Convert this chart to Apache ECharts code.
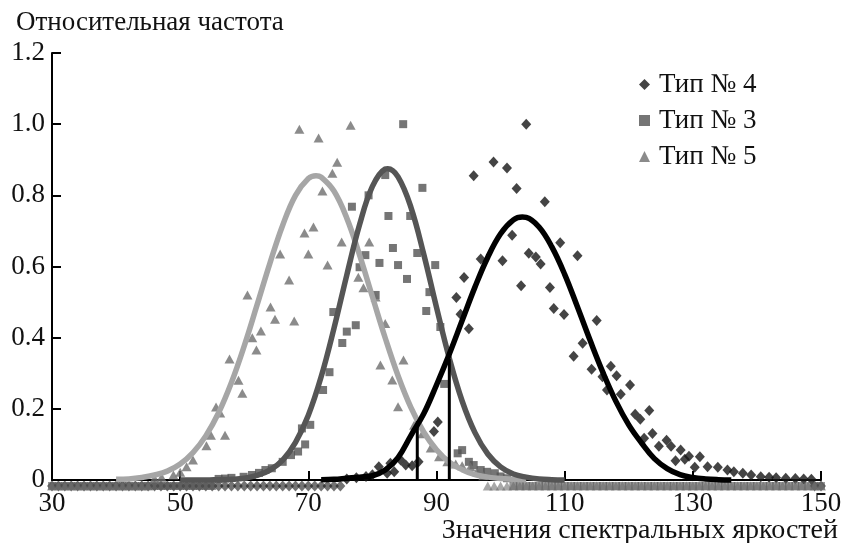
<!DOCTYPE html>
<html>
<head>
<meta charset="utf-8">
<script src="https://cdn.jsdelivr.net/npm/echarts@6/dist/echarts.min.js"></script>
<style>
  html, body { margin: 0; padding: 0; background: #fff; }
  #chart { width: 843px; height: 543px; }
</style>
</head>
<body>
<div id="chart"></div>
<script>
// Relative frequency of spectral brightness values for three types,
// measured points plus the fitted normal curves.

const FONT = '"Liberation Serif", "Times New Roman", serif';

const seriesNames = ['Тип № 4', 'Тип № 3', 'Тип № 5'];
const yAxisTitle = 'Относительная частота';
const xAxisTitle = 'Значения спектральных яркостей';

// Measured points, type 4 (diamonds)
const type4Points = [
  [76, 0.003], [77.5, 0.006], [79, 0.010], [80, 0.015], [81, 0.037], [82.3, 0.019], [82.8, 0.047],
  [83.4, 0.023], [84.4, 0.056], [85.2, 0.042], [86.2, 0.040], [87.2, 0.051], [89.6, 0.136], [90.2, 0.163],
  [93.1, 0.513], [93.75, 0.466], [94.3, 0.569], [95.05, 0.425], [95.8, 0.855], [96.9, 0.621], [98.9, 0.894],
  [100.3, 0.616], [101, 0.877], [101.8, 0.688], [102.5, 0.819], [103.2, 0.546], [104, 1.0], [104.4, 0.637],
  [105.5, 0.627], [106.25, 0.607], [106.9, 0.782], [107.7, 0.541], [108.3, 0.482], [109.3, 0.667], [109.9, 0.465],
  [111.4, 0.348], [112, 0.630], [112.8, 0.384], [114.2, 0.311], [115, 0.448], [115.9, 0.290], [116.6, 0.253],
  [117.2, 0.320], [118.1, 0.293], [118.75, 0.241], [120.2, 0.267], [121, 0.185], [121.8, 0.171], [122.4, 0.117],
  [123.2, 0.195], [123.7, 0.131], [124.7, 0.095], [125.9, 0.112], [126.6, 0.095], [127.3, 0.054], [128.1, 0.084],
  [128.75, 0.058], [129.4, 0.067], [130.3, 0.036], [131.1, 0.065], [132.3, 0.037], [133.9, 0.036], [135.4, 0.028],
  [136.4, 0.023], [137.8, 0.019], [139.1, 0.014], [140.6, 0.009], [141.9, 0.008], [143, 0.006], [144.5, 0.005],
  [146, 0.004], [147.3, 0.003], [148.5, 0.002]
];
const type4ZeroX = [
  30, 31, 32, 33, 34, 35, 36, 37, 38, 39, 40, 41, 42, 43, 44, 45, 46, 47, 48, 49, 50, 51, 52, 53,
  54, 55, 56, 57, 58, 59, 60, 61, 62, 63, 64, 65, 66, 67, 68, 69, 70, 71, 72, 73, 74, 75, 149, 150
];

// Measured points, type 3 (squares)
const type3Points = [
  [56, 0.003], [57, 0.004], [58, 0.006], [59.9, 0.009], [61.2, 0.014], [62.3, 0.020], [63.3, 0.028],
  [64.3, 0.033], [66, 0.051], [67.3, 0.070], [68.4, 0.080], [69, 0.145], [69.5, 0.100], [70.3, 0.155],
  [72.3, 0.253], [73.3, 0.303], [73.9, 0.472], [75.3, 0.385], [76, 0.417], [76.8, 0.768], [77.4, 0.435],
  [78, 0.598], [78.9, 0.632], [79.4, 0.800], [80.5, 0.520], [81.1, 0.610], [82, 0.857], [82.5, 0.742],
  [83.2, 0.652], [84, 0.604], [84.8, 1.0], [85.4, 0.565], [85.9, 0.742], [87, 0.638], [87.8, 0.821],
  [88.4, 0.475], [88.9, 0.528], [89.8, 0.604], [90.6, 0.430], [91.2, 0.270], [93.3, 0.075], [94, 0.084],
  [95.05, 0.051], [95.8, 0.042], [96.9, 0.028], [97.9, 0.023], [99.1, 0.019], [100, 0.010], [101, 0.005]
];
const type3ZeroX = [
  30, 31, 32, 33, 34, 35, 36, 37, 38, 39, 40, 41, 42, 43, 44, 45, 46, 47, 48, 49, 50, 51, 52, 53, 54, 55,
  102, 103, 104, 105, 106, 107, 108, 109, 110, 111, 112, 113, 114, 115, 116, 117, 118, 119, 120, 121, 122,
  123, 124, 125, 126, 127, 128, 129, 130, 131, 132, 133, 134, 135, 136, 137, 138, 139, 140, 141, 142, 143,
  144, 145, 146, 147, 148, 149, 150
];

// Measured points, type 5 (triangles)
const type5Points = [
  [46, 0.004], [47.1, 0.008], [48.95, 0.014], [50, 0.022], [51, 0.037], [52, 0.056], [54.1, 0.096],
  [54.8, 0.126], [55.6, 0.205], [56.25, 0.188], [57, 0.126], [57.7, 0.340], [59.1, 0.280], [59.7, 0.244],
  [60.5, 0.520], [61.25, 0.400], [61.9, 0.365], [62.6, 0.419], [64.1, 0.486], [64.8, 0.452], [65.6, 0.635],
  [67, 0.562], [67.8, 0.447], [68.6, 0.986], [69.4, 0.694], [70, 0.635], [70.8, 0.711], [71.6, 0.961],
  [72.2, 0.812], [73, 0.604], [73.75, 0.862], [74.5, 0.893], [75.2, 0.669], [76.6, 0.997], [77.8, 0.570],
  [78.6, 0.540], [79.5, 0.669], [80.5, 0.514], [81.25, 0.323], [82, 0.440], [83.1, 0.281], [84, 0.206],
  [84.85, 0.337], [86.5, 0.154], [87.8, 0.130], [89.1, 0.090], [90.4, 0.065], [91.7, 0.051], [93, 0.045],
  [94, 0.040], [95.3, 0.037], [96.3, 0.023], [97.3, 0.012]
];
const type5ZeroX = [
  30, 31, 32, 33, 34, 35, 36, 37, 38, 39, 40, 41, 42, 43, 44, 45,
  98, 99, 100, 101, 102, 103, 104, 105, 106, 107, 108, 109, 110, 111, 112, 113, 114, 115, 116, 117, 118,
  119, 120, 121, 122, 123, 124, 125, 126, 127, 128, 129, 130, 131, 132, 133, 134, 135, 136, 137, 138, 139,
  140, 141, 142, 143, 144, 145, 146, 147, 148, 149, 150
];

// Fitted curves
const curve4X = [72, 74, 76, 78, 80, 82, 84, 86, 88, 90, 92, 94, 96, 98, 100, 102, 103.4, 104, 106, 108, 110,
  112, 114, 116, 118, 120, 122, 124, 126, 128, 130, 132, 134, 136];
const curve4Y = [0.001, 0.002, 0.005, 0.008, 0.012, 0.028, 0.063, 0.125, 0.186, 0.267, 0.354, 0.448, 0.542,
  0.626, 0.692, 0.731, 0.739, 0.738, 0.711, 0.655, 0.578, 0.486, 0.391, 0.301, 0.221, 0.155, 0.104, 0.060,
  0.032, 0.015, 0.007, 0.003, 0.001, 0];

const curve3X = [50, 54, 56, 58, 60, 62, 64, 66, 68, 70, 72, 74, 76, 78, 80, 82, 82.4, 84, 86, 88, 90, 92, 94,
  96, 98, 100, 102, 104, 106, 108, 110];
const curve3Y = [0, 0, 0.001, 0.002, 0.005, 0.013, 0.028, 0.056, 0.106, 0.182, 0.290, 0.426, 0.576, 0.718,
  0.825, 0.874, 0.875, 0.852, 0.767, 0.635, 0.485, 0.342, 0.222, 0.133, 0.073, 0.037, 0.017, 0.008, 0.003,
  0.001, 0];

const curve5X = [40, 42, 44, 46, 48, 50, 52, 54, 56, 58, 60, 62, 64, 66, 68, 70, 71.2, 72, 74, 76, 78, 80, 82,
  84, 86, 88, 90, 92, 94, 96, 98, 100, 102, 104];
const curve5Y = [0.002, 0.003, 0.007, 0.014, 0.025, 0.045, 0.077, 0.124, 0.189, 0.274, 0.377, 0.492, 0.609,
  0.716, 0.800, 0.847, 0.855, 0.851, 0.812, 0.736, 0.632, 0.515, 0.399, 0.293, 0.204, 0.135, 0.085, 0.050,
  0.029, 0.015, 0.008, 0.004, 0.002, 0.001];

// Class boundaries: where the fitted curves intersect
const boundaryX = [87, 92];
const boundaryTop = [0.165, 0.34];

const zip = (xs, ys) => xs.map((x, i) => [x, ys[i]]);
// Points at zero sit in a strip just under the axis line
const withZeros = (points, zeroX) =>
  points.map(p => ({ value: p })).concat(
    zeroX.map(x => ({ value: [x, 0], symbolOffset: [0, 6], itemStyle: { opacity: 0.6 } }))
  );

const chart = echarts.init(document.getElementById('chart'), null, { renderer: 'canvas' });

const scatterBase = { type: 'scatter', clip: false, z: 3 };
const curveBase = {
  type: 'line', smooth: 0.4, showSymbol: false, symbol: 'none', clip: false,
  silent: true, legendHoverLink: false, z: 4
};

const option = {
  animation: false,
  backgroundColor: '#ffffff',
  title: {
    text: yAxisTitle,
    left: 11, top: 4,
    textStyle: { fontFamily: FONT, fontSize: 27, fontWeight: 'normal', color: '#111' }
  },
  legend: {
    data: seriesNames,
    orient: 'vertical',
    left: 634, top: 66,
    itemWidth: 11, itemHeight: 11, itemGap: 9,
    textStyle: { fontFamily: FONT, fontSize: 27, color: '#111', padding: [0, 0, 0, 4] }
  },
  grid: {
    left: 52, right: 22, top: 53, bottom: 63,
    containLabel: false, outerBoundsMode: 'none'
  },
  xAxis: {
    type: 'value', min: 30, max: 150, interval: 20,
    axisLine: { show: true, onZero: false, lineStyle: { color: '#000', width: 2 } },
    axisTick: { show: true, inside: true, length: 9, lineStyle: { color: '#000', width: 2 } },
    axisLabel: { fontFamily: FONT, fontSize: 27, color: '#111', margin: 10 },
    splitLine: { show: false },
    name: xAxisTitle,
    nameLocation: 'end',
    nameGap: 17,
    nameMoveOverlap: false,
    nameTextStyle: {
      fontFamily: FONT, fontSize: 28, color: '#111',
      align: 'right', verticalAlign: 'top', padding: [37, 0, 0, 0]
    }
  },
  yAxis: {
    type: 'value', min: 0, max: 1.2, interval: 0.2,
    axisLine: { show: true, lineStyle: { color: '#000', width: 2 } },
    axisTick: { show: true, inside: true, length: 9, lineStyle: { color: '#000', width: 2 } },
    axisLabel: {
      fontFamily: FONT, fontSize: 27, color: '#111', margin: 7,
      formatter: v => (v === 0 ? '0' : v.toFixed(1))
    },
    splitLine: { show: false }
  },
  series: [
    Object.assign({}, scatterBase, {
      name: seriesNames[0], symbol: 'diamond', symbolSize: [10, 11],
      itemStyle: { color: '#151515' },
      data: withZeros(type4Points, type4ZeroX)
    }),
    Object.assign({}, scatterBase, {
      name: seriesNames[1], symbol: 'rect', symbolSize: 8,
      itemStyle: { color: '#525252' },
      data: withZeros(type3Points, type3ZeroX)
    }),
    Object.assign({}, scatterBase, {
      name: seriesNames[2], symbol: 'triangle', symbolSize: [10, 9],
      itemStyle: { color: '#6e6e6e' },
      data: withZeros(type5Points, type5ZeroX)
    }),
    Object.assign({}, curveBase, {
      lineStyle: { color: '#a6a6a6', width: 5.5 },
      data: zip(curve5X, curve5Y)
    }),
    Object.assign({}, curveBase, {
      lineStyle: { color: '#555555', width: 5.5 },
      data: zip(curve3X, curve3Y)
    }),
    Object.assign({}, curveBase, {
      lineStyle: { color: '#000000', width: 5.5 },
      data: zip(curve4X, curve4Y)
    })
  ].concat(boundaryX.map((x, i) => ({
    type: 'line', symbol: 'none', showSymbol: false, silent: true, clip: false, z: 5,
    lineStyle: { color: '#000', width: 3 },
    data: [[x, 0], [x, boundaryTop[i]]]
  })))
};

chart.setOption(option);
</script>
</body>
</html>
